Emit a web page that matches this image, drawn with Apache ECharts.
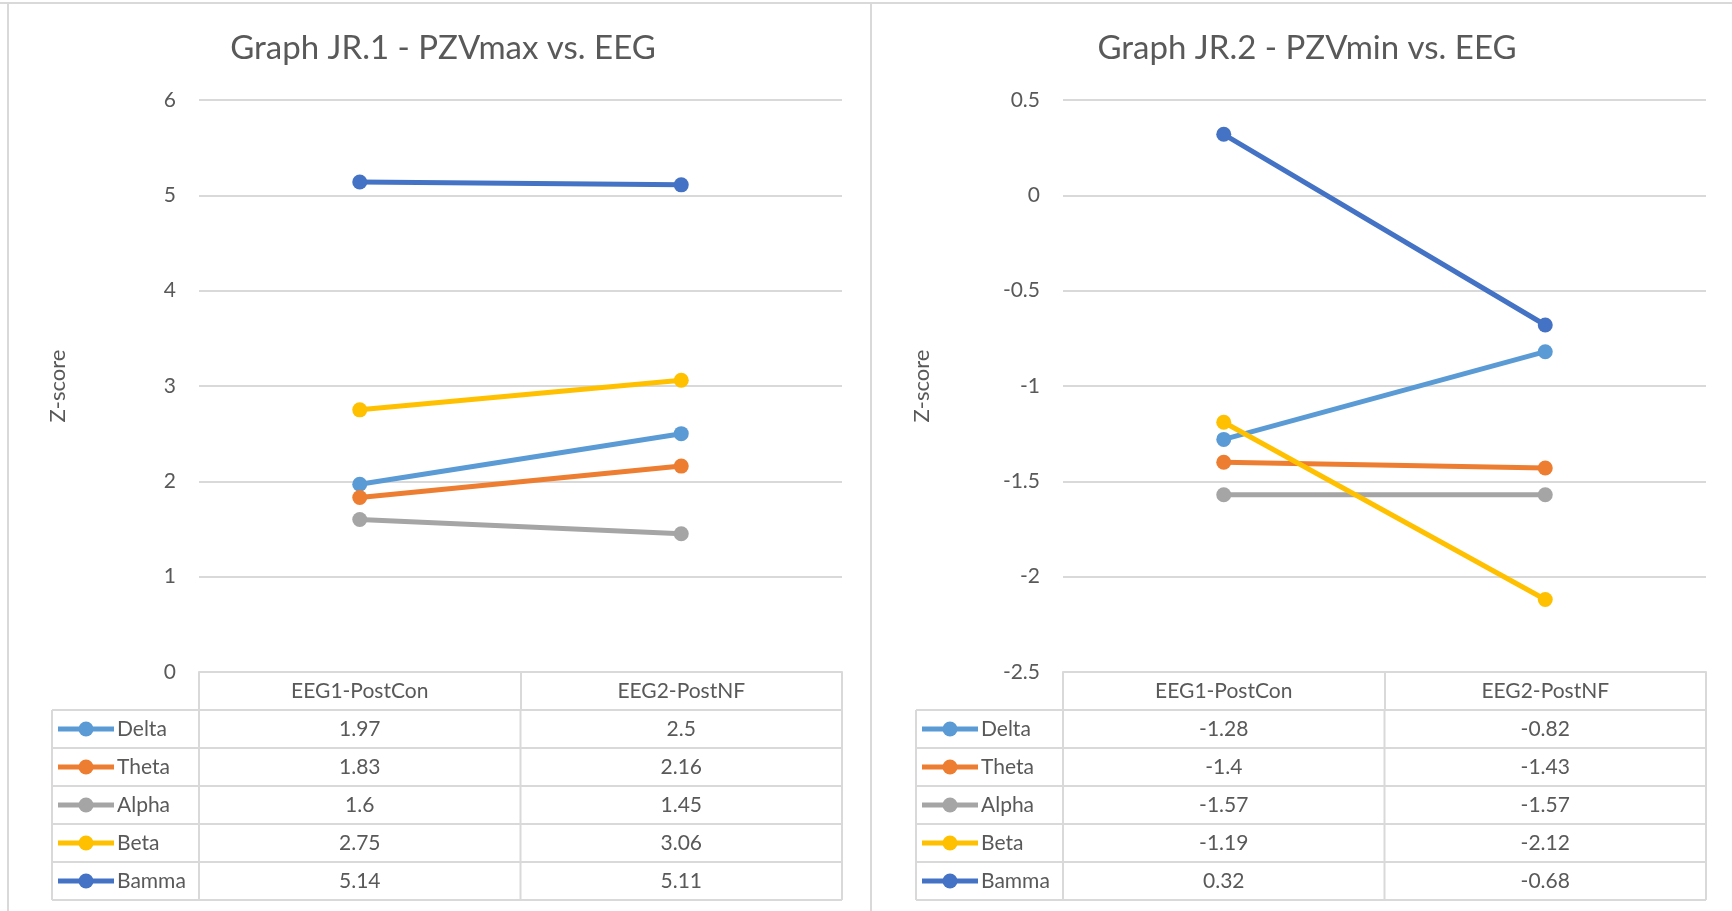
<!DOCTYPE html>
<html>
<head>
<meta charset="utf-8">
<script src="https://cdn.jsdelivr.net/npm/echarts@6/dist/echarts.min.js"></script>
<style>
  html, body { margin: 0; padding: 0; background: #ffffff; }
  #chart { width: 1732px; height: 911px; }
</style>
</head>
<body>
<div id="chart"></div>
<script>
// ---- data ----
const categories = ['EEG1-PostCon', 'EEG2-PostNF'];
const bandNames = ['Delta', 'Theta', 'Alpha', 'Beta', 'Bamma'];
const bandColors = ['#5B9BD5', '#ED7D31', '#A5A5A5', '#FFC000', '#4472C4'];

// Graph JR.1 - PZVmax
const deltaMax = [1.97, 2.5];
const thetaMax = [1.83, 2.16];
const alphaMax = [1.6, 1.45];
const betaMax  = [2.75, 3.06];
const bammaMax = [5.14, 5.11];

// Graph JR.2 - PZVmin
const deltaMin = [-1.28, -0.82];
const thetaMin = [-1.4, -1.43];
const alphaMin = [-1.57, -1.57];
const betaMin  = [-1.19, -2.12];
const bammaMin = [0.32, -0.68];

const maxTicks = { min: 0, max: 6, interval: 1 };
const minTicks = { min: -2.5, max: 0.5, interval: 0.5 };

const panels = [
  { title: 'Graph JR.1 - PZVmax vs. EEG', values: [deltaMax, thetaMax, alphaMax, betaMax, bammaMax], ticks: maxTicks },
  { title: 'Graph JR.2 - PZVmin vs. EEG', values: [deltaMin, thetaMin, alphaMin, betaMin, bammaMin], ticks: minTicks }
];

// ---- layout ----
const FONT = 'Lato, "Noto Sans", sans-serif';
const TEXT = '#595959';
const RULE = '#d9d9d9';
const PANEL_DX = 864;          // horizontal offset of the second panel
const PLOT_LEFT = 199, PLOT_W = 643, PLOT_TOP = 100, PLOT_H = 572;
const HEAD_H = 38;             // header row of the data table
const ROW_H = 38;              // each series row of the data table
const KEY_LEFT = 52;           // left edge of the legend-key column

const chart = echarts.init(document.getElementById('chart'), null, { renderer: 'canvas' });

const option = {
  backgroundColor: '#ffffff',
  animation: false,
  title: [],
  grid: [],
  xAxis: [],
  yAxis: [],
  series: []
};

panels.forEach((p, k) => {
  const dx = k * PANEL_DX;
  option.title.push({
    text: p.title,
    left: 438 + dx,
    top: 27,
    textAlign: 'center',
    textStyle: { fontFamily: FONT, fontSize: 33, fontWeight: 'normal', color: TEXT }
  });
  option.grid.push({
    left: PLOT_LEFT + dx, top: PLOT_TOP, width: PLOT_W, height: PLOT_H,
    containLabel: false
  });
  option.xAxis.push({
    type: 'category',
    gridIndex: k,
    data: categories,
    boundaryGap: true,
    axisLine: { show: true, onZero: false, lineStyle: { color: RULE, width: 2 } },
    axisTick: { show: true, inside: false, length: HEAD_H, lineStyle: { color: RULE, width: 2 } },
    axisLabel: { show: true, margin: 9, fontFamily: FONT, fontSize: 21, color: TEXT },
    splitLine: { show: false }
  });
  option.yAxis.push({
    type: 'value',
    gridIndex: k,
    min: p.ticks.min, max: p.ticks.max, interval: p.ticks.interval,
    name: 'Z-score',
    nameLocation: 'middle',
    nameRotate: 90,
    nameGap: 130,
    nameTextStyle: { fontFamily: FONT, fontSize: 22, color: TEXT },
    axisLine: { show: false },
    axisTick: { show: false },
    axisLabel: { margin: 23, fontFamily: FONT, fontSize: 21, color: TEXT },
    splitLine: { show: true, lineStyle: { color: RULE, width: 2 } }
  });
  bandNames.forEach((name, i) => {
    option.series.push({
      type: 'line',
      name: name,
      xAxisIndex: k,
      yAxisIndex: k,
      data: p.values[i],
      color: bandColors[i],
      lineStyle: { width: 5, color: bandColors[i] },
      symbol: 'circle',
      symbolSize: 15,
      showSymbol: true,
      itemStyle: { color: bandColors[i] },
      z: 3 + i
    });
  });
});

chart.setOption(option);

// ---- data table below each plot, plus the panel frames ----
const graphics = [];
const line = (x1, y1, x2, y2, w, c) => ({
  type: 'line',
  shape: { x1, y1, x2, y2 },
  style: { stroke: c || RULE, lineWidth: w || 2 },
  silent: true
});

// panel frames
graphics.push(line(0, 3, 1732, 3, 2));
graphics.push(line(8, 3, 8, 911, 2));
graphics.push(line(871, 3, 871, 911, 2));

panels.forEach((p, k) => {
  const dx = k * PANEL_DX;
  const tableTop = PLOT_TOP + PLOT_H + HEAD_H;          // top of first series row
  const tableBottom = tableTop + ROW_H * bandNames.length;
  const xL = KEY_LEFT + dx, xA = PLOT_LEFT + dx, xR = PLOT_LEFT + PLOT_W + dx;
  const xMid = PLOT_LEFT + PLOT_W / 2 + dx;

  // horizontal rules
  for (let r = 0; r <= bandNames.length; r++) {
    const y = tableTop + r * ROW_H;
    graphics.push(line(xL, y, xR, y, 2));
  }
  // vertical rules
  [xL, xA, xMid, xR].forEach(x => graphics.push(line(x, tableTop, x, tableBottom, 2)));

  const colX = categories.map((c, j) => chart.convertToPixel({ xAxisIndex: k }, j));

  bandNames.forEach((name, i) => {
    const cy = tableTop + i * ROW_H + ROW_H / 2;
    // legend key
    graphics.push(line(xL + 6, cy, xL + 62, cy, 5, bandColors[i]));
    graphics.push({
      type: 'circle',
      shape: { cx: xL + 34, cy: cy, r: 7.5 },
      style: { fill: bandColors[i] },
      silent: true
    });
    graphics.push({
      type: 'text',
      x: xL + 65, y: cy,
      style: { text: name, fontFamily: FONT, fontSize: 21, fill: TEXT, align: 'left', verticalAlign: 'middle' },
      silent: true
    });
    // values
    p.values[i].forEach((v, j) => {
      graphics.push({
        type: 'text',
        x: colX[j], y: cy,
        style: { text: String(v), fontFamily: FONT, fontSize: 21, fill: TEXT, align: 'center', verticalAlign: 'middle' },
        silent: true
      });
    });
  });
});

chart.setOption({ graphic: graphics });
</script>
</body>
</html>
